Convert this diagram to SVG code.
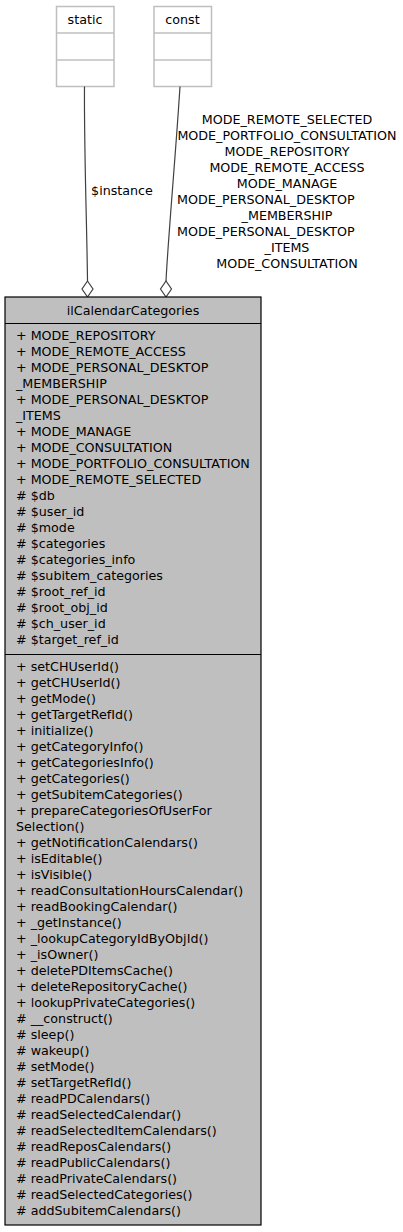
<svg xmlns="http://www.w3.org/2000/svg" width="403" height="1232" viewBox="0 0 403 1232">
<style>
text{font-family:"DejaVu Sans",Verdana,sans-serif;font-size:12.7px;fill:#000}
.mid{text-anchor:middle}
.small rect{fill:#fff;stroke:#bfbfbf;stroke-width:1.5}
.small line{stroke:#bfbfbf;stroke-width:1.5}
.edge{fill:none;stroke:#404040;stroke-width:1.2}
.dia{fill:#fff;stroke:#404040;stroke-width:1.2}
.cls rect{fill:#bfbfbf;stroke:#000;stroke-width:1.2}
.cls line{stroke:#000;stroke-width:1.2}
</style>
<rect width="403" height="1232" fill="#fff"/>
<g id="static" class="small">
<rect x="56.5" y="6.5" width="57.5" height="80"/>
<line x1="56.5" y1="33" x2="114" y2="33"/>
<line x1="56.5" y1="60" x2="114" y2="60"/>
<text class="mid" x="85" y="24">static</text>
</g>
<g id="const" class="small">
<rect x="154" y="6.5" width="57.5" height="80"/>
<line x1="154" y1="33" x2="211.5" y2="33"/>
<line x1="154" y1="60" x2="211.5" y2="60"/>
<text class="mid" x="182.5" y="24">const</text>
</g>
<g id="connectors">
<path class="edge" d="M84.5,86.5 C84,150 87,230 87.5,281"/>
<polygon class="dia" points="87.5,281 93,289 87.5,297 82,289"/>
<text class="mid" x="122" y="195">$instance</text>
<path class="edge" d="M180,86.5 C176,150 168,240 166,281"/>
<polygon class="dia" points="166,281 171.5,289 166,297 160.5,289"/>
<text class="mid" x="287" y="124">MODE_REMOTE_SELECTED</text>
<text class="mid" x="287" y="140">MODE_PORTFOLIO_CONSULTATION</text>
<text class="mid" x="287" y="156">MODE_REPOSITORY</text>
<text class="mid" x="287" y="172">MODE_REMOTE_ACCESS</text>
<text class="mid" x="287" y="188">MODE_MANAGE</text>
<text x="177" y="204">MODE_PERSONAL_DESKTOP</text>
<text class="mid" x="287" y="220">_MEMBERSHIP</text>
<text x="177" y="236">MODE_PERSONAL_DESKTOP</text>
<text class="mid" x="287" y="252">_ITEMS</text>
<text class="mid" x="287" y="268">MODE_CONSULTATION</text>
</g>
<g id="ilCalendarCategories" class="cls">
<rect x="5" y="297" width="256" height="928"/>
<line x1="5" y1="323.5" x2="261" y2="323.5"/>
<line x1="5" y1="654.5" x2="261" y2="654.5"/>
<text class="mid" x="133" y="315">ilCalendarCategories</text>
<text x="16" y="340">+ MODE_REPOSITORY</text>
<text x="16" y="356">+ MODE_REMOTE_ACCESS</text>
<text x="16" y="372">+ MODE_PERSONAL_DESKTOP</text>
<text x="16" y="388">_MEMBERSHIP</text>
<text x="16" y="404">+ MODE_PERSONAL_DESKTOP</text>
<text x="16" y="420">_ITEMS</text>
<text x="16" y="436">+ MODE_MANAGE</text>
<text x="16" y="452">+ MODE_CONSULTATION</text>
<text x="16" y="468">+ MODE_PORTFOLIO_CONSULTATION</text>
<text x="16" y="484">+ MODE_REMOTE_SELECTED</text>
<text x="16" y="500"># $db</text>
<text x="16" y="516"># $user_id</text>
<text x="16" y="532"># $mode</text>
<text x="16" y="548"># $categories</text>
<text x="16" y="564"># $categories_info</text>
<text x="16" y="580"># $subitem_categories</text>
<text x="16" y="596"># $root_ref_id</text>
<text x="16" y="612"># $root_obj_id</text>
<text x="16" y="628"># $ch_user_id</text>
<text x="16" y="644"># $target_ref_id</text>
<text x="16" y="671">+ setCHUserId()</text>
<text x="16" y="687">+ getCHUserId()</text>
<text x="16" y="703">+ getMode()</text>
<text x="16" y="719">+ getTargetRefId()</text>
<text x="16" y="735">+ initialize()</text>
<text x="16" y="751">+ getCategoryInfo()</text>
<text x="16" y="767">+ getCategoriesInfo()</text>
<text x="16" y="783">+ getCategories()</text>
<text x="16" y="799">+ getSubitemCategories()</text>
<text x="16" y="815">+ prepareCategoriesOfUserFor</text>
<text x="16" y="831">Selection()</text>
<text x="16" y="847">+ getNotificationCalendars()</text>
<text x="16" y="863">+ isEditable()</text>
<text x="16" y="879">+ isVisible()</text>
<text x="16" y="895">+ readConsultationHoursCalendar()</text>
<text x="16" y="911">+ readBookingCalendar()</text>
<text x="16" y="927">+ _getInstance()</text>
<text x="16" y="943">+ _lookupCategoryIdByObjId()</text>
<text x="16" y="959">+ _isOwner()</text>
<text x="16" y="975">+ deletePDItemsCache()</text>
<text x="16" y="991">+ deleteRepositoryCache()</text>
<text x="16" y="1007">+ lookupPrivateCategories()</text>
<text x="16" y="1023"># __construct()</text>
<text x="16" y="1039"># sleep()</text>
<text x="16" y="1055"># wakeup()</text>
<text x="16" y="1071"># setMode()</text>
<text x="16" y="1087"># setTargetRefId()</text>
<text x="16" y="1103"># readPDCalendars()</text>
<text x="16" y="1119"># readSelectedCalendar()</text>
<text x="16" y="1135"># readSelectedItemCalendars()</text>
<text x="16" y="1151"># readReposCalendars()</text>
<text x="16" y="1167"># readPublicCalendars()</text>
<text x="16" y="1183"># readPrivateCalendars()</text>
<text x="16" y="1199"># readSelectedCategories()</text>
<text x="16" y="1215"># addSubitemCalendars()</text>
</g>
</svg>
